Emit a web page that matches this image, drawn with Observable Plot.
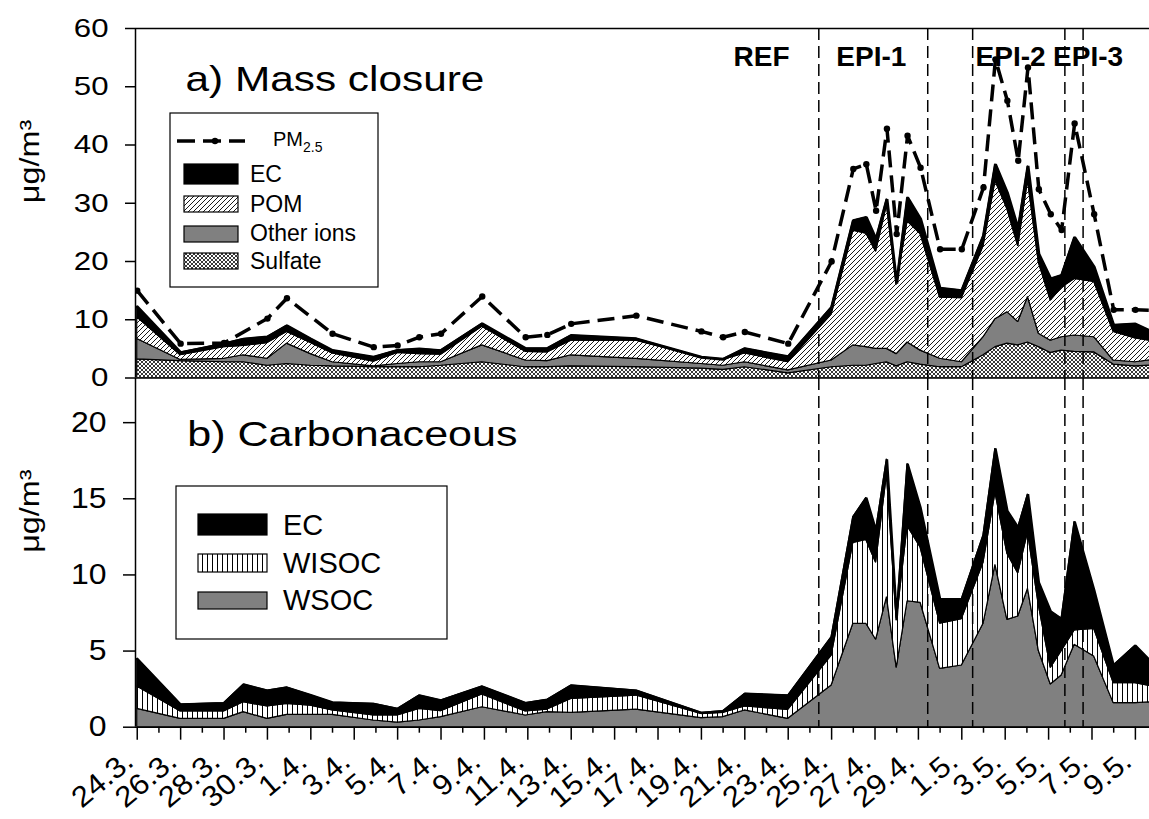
<!DOCTYPE html>
<html>
<head>
<meta charset="utf-8">
<script src="https://cdn.jsdelivr.net/npm/d3@7"></script>
<script src="https://cdn.jsdelivr.net/npm/@observablehq/plot@0.6"></script>
<style>
  body { margin: 0; background: #fff; }
  #chart { position: relative; width: 1149px; height: 819px; overflow: hidden; font-family: "Liberation Sans", Arial, sans-serif; }
  #chart svg { position: absolute; left: 0; top: 0; overflow: visible; background: transparent; }
</style>
</head>
<body>
<svg width="0" height="0" style="position:absolute">
  <defs>
    <pattern id="diag" width="5" height="5" patternUnits="userSpaceOnUse">
      <rect width="5" height="5" fill="white"/>
      <path d="M-1,1 L1,-1 M0,5 L5,0 M4,6 L6,4" stroke="black" stroke-width="0.9"/>
    </pattern>
    <pattern id="xhatch" width="4" height="4" patternUnits="userSpaceOnUse">
      <rect width="4" height="4" fill="white"/>
      <path d="M0,0 L4,4 M4,0 L0,4" stroke="#222" stroke-width="0.9"/>
    </pattern>
    <pattern id="vlines" width="5" height="8" patternUnits="userSpaceOnUse">
      <rect width="5" height="8" fill="white"/>
      <line x1="2.5" y1="0" x2="2.5" y2="8" stroke="black" stroke-width="1"/>
    </pattern>
  </defs>
</svg>
<div id="chart"></div>
<script>
// Sampling times, days after 24 March
const day = [0, 2, 4, 4.9, 6, 6.9, 8, 9, 10.9, 12, 13, 14, 15.9, 17.9, 18.9, 20, 23, 26, 27, 28,
  30, 32, 33, 33.6, 34.05, 34.55, 35, 35.5, 36.1, 37, 38, 39, 39.55, 40.1, 40.6, 41.05, 41.55, 42.1, 42.6, 43.2,
  44.1, 45, 46, 47];

// Axis ticks and labels
const tickDays = [0, 2, 4, 6, 8, 10, 12, 14, 16, 18, 20, 22, 24, 26, 28, 30, 32, 34, 36, 38, 40, 42, 44, 46];
const tickLabels = ["24.3.", "26.3.", "28.3.", "30.3.", "1.4.", "3.4.", "5.4.", "7.4.", "9.4.", "11.4.", "13.4.", "15.4.",
  "17.4.", "19.4.", "21.4.", "23.4.", "25.4.", "27.4.", "29.4.", "1.5.", "3.5.", "5.5.", "7.5.", "9.5."];
const minorDays = [1, 3, 5, 7, 9, 11, 13, 15, 17, 19, 21, 23, 25, 27, 29, 31, 33, 35, 37, 39, 41, 43, 45];
const massTicks = [0, 10, 20, 30, 40, 50, 60];
const carbTicks = [0, 5, 10, 15, 20];

// Periods
const periodNames = ["REF", "EPI-1", "EPI-2", "EPI-3"];
const periodCenters = [28.77, 33.83, 40.25, 43.82];
const episodeBounds = [31.41, 36.43, 38.5, 42.75, 43.59];

// a) Mass closure, µg/m3
const sulfate = [3.2, 2.9, 2.7, 2.7, 2.1, 2.4, 2.1, 2.0, 1.85, 1.85, 1.85, 2.1, 2.7, 1.85, 1.85, 2.0, 1.85, 1.6, 1.4, 1.85,
  0.8, 1.85, 2.1, 2.1, 2.4, 2.7, 2.0, 2.7, 2.3, 1.85, 1.85, 3.9, 5.3, 5.9, 5.6, 6.1, 5.3, 4.3, 4.7, 4.5,
  4.4, 2.3, 2.0, 2.2];
const otherIons = [3.5, 0.2, 0.6, 1.2, 1.2, 3.5, 2.0, 0.7, 0.15, 0.55, 0.85, 0.6, 2.9, 1.15, 1.05, 1.9, 1.45, 0.8, 0.7, 0.85,
  0.5, 1.15, 3.5, 3.2, 2.6, 2.3, 2.1, 3.4, 2.4, 1.45, 0.85, 3.1, 4.8, 5.4, 4.0, 7.8, 2.3, 2.1, 2.3, 2.8,
  2.6, 0.7, 0.7, 1.0];
const pom = [3.7, 0.8, 2.0, 1.6, 2.7, 2.0, 1.9, 1.5, 0.8, 1.9, 1.4, 1.3, 3.2, 1.5, 1.5, 2.5, 3.1, 1.1, 1.0, 1.5,
  1.4, 7.9, 19.7, 19.5, 16.7, 24.7, 11.9, 20.8, 20.0, 10.5, 11.0, 15.6, 23.7, 17.7, 13.0, 20.0, 12.2, 6.9, 8.5, 9.7,
  9.5, 4.9, 4.1, 3.0];
const pm25 = [15.0, 5.9, 6.0, null, 10.2, 13.7, null, 7.6, 5.3, 5.6, 7.0, 7.6, 14.0, 7.0, 7.4, 9.3, 10.7, 8.0, 7.0, 7.9,
  5.9, 20.0, 35.9, 36.7, 28.7, 42.8, 24.7, 41.6, 36.1, 22.1, 22.1, 32.7, 54.7, 47.6, 37.3, 53.3, 32.4, 28.1, 25.4, 43.7,
  28.1, 11.7, 11.7, 11.6];

// b) Carbonaceous, µg/m3 (EC is shared by both panels)
const wsoc = [1.2, 0.55, 0.55, 0.99, 0.55, 0.81, 0.81, 0.81, 0.44, 0.3, 0.44, 0.66, 1.31, 0.77, 0.99, 0.94, 1.16, 0.59, 0.66, 1.1,
  0.55, 2.74, 6.79, 6.79, 5.74, 8.54, 3.9, 8.27, 8.17, 3.83, 4.05, 6.79, 10.66, 7.05, 7.27, 9.09, 5.0, 2.8, 3.4, 5.41,
  4.64, 1.58, 1.58, 1.65];
const wisoc = [1.47, 0.48, 0.48, 0.65, 0.81, 0.72, 0.61, 0.29, 0.33, 0.47, 0.76, 0.39, 0.84, 0.26, 0.17, 0.92, 0.92, 0.29, 0.28, 0.26,
  0.59, 1.96, 5.31, 5.51, 5.06, 8.06, 3.1, 4.93, 3.63, 2.97, 3.05, 4.01, 4.74, 4.35, 2.83, 3.71, 3.0, 1.1, 1.6, 0.94,
  1.82, 1.32, 1.32, 0.95];
const ec = [1.82, 0.46, 0.55, 1.16, 1.04, 1.07, 0.68, 0.52, 0.76, 0.43, 0.88, 0.70, 0.52, 0.55, 0.64, 0.88, 0.32, 0.06, 0.11, 0.83,
  0.94, 1.21, 1.7, 2.76, 2.1, 1.0, 0.2, 4.1, 2.6, 1.6, 1.3, 1.8, 2.9, 2.8, 3.0, 2.5, 1.5, 3.7, 2.1, 7.15,
  2.54, 1.15, 2.46, 1.3];

const massComponents = ["Sulfate", "Other ions", "POM", "EC"];
const massValues = {"Sulfate": sulfate, "Other ions": otherIons, "POM": pom, "EC": ec};
const carbComponents = ["WSOC", "WISOC", "EC"];
const carbValues = {"WSOC": wsoc, "WISOC": wisoc, "EC": ec};
const fills = {"Sulfate": "url(#xhatch)", "Other ions": "#808080", "POM": "url(#diag)", "EC": "#000000",
  "WSOC": "#808080", "WISOC": "url(#vlines)"};

const massLong = massComponents.flatMap(c => day.map((d, i) => ({day: d, comp: c, value: massValues[c][i]})));
const carbLong = carbComponents.flatMap(c => day.map((d, i) => ({day: d, comp: c, value: carbValues[c][i]})));
const pmRows = day.map((d, i) => ({day: d, pm: pm25[i]})).filter(r => r.pm != null);
const massTotal = day.map((d, i) => ({day: d, v: sulfate[i] + otherIons[i] + pom[i] + ec[i]}));
const carbTotal = day.map((d, i) => ({day: d, v: wsoc[i] + wisoc[i] + ec[i]}));

const W = 1149;
const xDomain = [-0.08, 46.65];
const font = "'Liberation Sans', Arial, Helvetica, sans-serif";

const topPlot = Plot.plot({
  width: W, height: 400,
  marginLeft: 135, marginRight: 0, marginTop: 28, marginBottom: 22.5,
  x: {domain: xDomain, axis: null},
  y: {domain: [0, 60]},
  color: {type: "identity"},
  style: {fontFamily: font, background: "transparent", overflow: "visible", color: "black"},
  marks: [
    Plot.areaY(massLong, Plot.stackY({x: "day", y: "value", z: "comp", order: massComponents,
      fill: d => fills[d.comp], stroke: "black", strokeWidth: 1.2, strokeLinejoin: "miter", clip: true})),
    Plot.lineY(massTotal, {x: "day", y: "v", stroke: "black", strokeWidth: 3, strokeLinejoin: "miter", clip: true}),
    Plot.ruleX(episodeBounds, {stroke: "black", strokeWidth: 1.5, strokeDasharray: "12,6"}),
    Plot.line(pmRows, {x: "day", y: "pm", stroke: "black", strokeWidth: 3.5, strokeDasharray: "17,8",
      strokeLinecap: "butt", clip: true}),
    Plot.dot(pmRows, {x: "day", y: "pm", r: 3.2, fill: "black", clip: true}),
    Plot.ruleY([0, 60], {stroke: "black", strokeWidth: 1.5}),
    Plot.ruleX([xDomain[0]], {stroke: "black", strokeWidth: 1.5}),
    Plot.axisY({ticks: massTicks, tickSize: 10, tickPadding: 17, fontSize: 26, strokeWidth: 1.5, label: null}),
    Plot.text(periodNames, {x: (d, i) => periodCenters[i], text: d => d, frameAnchor: "top", dy: 37,
      lineAnchor: "bottom", fontWeight: "bold", fontSize: 28}),
    Plot.text(["a) Mass closure"], {text: d => d, frameAnchor: "top-left", dx: 50, dy: 62,
      textAnchor: "start", lineAnchor: "bottom", fontSize: 35}),
    Plot.text(["μg/m³"], {text: d => d, frameAnchor: "left", dx: -97, rotate: -90, lineAnchor: "bottom", fontSize: 27})
  ]
});

const bottomPlot = Plot.plot({
  width: W, height: 819,
  marginLeft: 135, marginRight: 0, marginTop: 378, marginBottom: 92.3,
  x: {domain: xDomain},
  y: {domain: [0, 22.9]},
  color: {type: "identity"},
  style: {fontFamily: font, background: "transparent", overflow: "visible", color: "black"},
  marks: [
    Plot.areaY(carbLong, Plot.stackY({x: "day", y: "value", z: "comp", order: carbComponents,
      fill: d => fills[d.comp], stroke: "black", strokeWidth: 1.2, strokeLinejoin: "miter", clip: true})),
    Plot.lineY(carbTotal, {x: "day", y: "v", stroke: "black", strokeWidth: 2.5, strokeLinejoin: "miter", clip: true}),
    Plot.ruleX(episodeBounds, {stroke: "black", strokeWidth: 1.5, strokeDasharray: "12,6"}),
    Plot.ruleY([0], {stroke: "black", strokeWidth: 1.5}),
    Plot.ruleX([xDomain[0]], {stroke: "black", strokeWidth: 1.5}),
    Plot.axisY({ticks: carbTicks, tickSize: 12, tickPadding: 17, fontSize: 29, strokeWidth: 1.5, label: null}),
    Plot.axisX({ticks: tickDays, tickSize: 13, tickFormat: () => "", strokeWidth: 1.5, label: null}),
    Plot.axisX({ticks: minorDays, tickSize: 6, tickFormat: () => "", strokeWidth: 1.5, label: null}),
    Plot.text(tickDays, {x: d => d, text: (d, i) => tickLabels[i], frameAnchor: "bottom", dy: 37, dx: -2,
      rotate: -40, textAnchor: "end", lineAnchor: "bottom", fontSize: 29}),
    Plot.text(["b) Carbonaceous"], {text: d => d, frameAnchor: "top-left", dx: 51.7, dy: 67,
      textAnchor: "start", lineAnchor: "bottom", fontSize: 35}),
    Plot.text(["μg/m³"], {text: d => d, frameAnchor: "left", dx: -97, rotate: -90, lineAnchor: "bottom", fontSize: 27})
  ]
});

const chart = document.getElementById("chart");
chart.appendChild(bottomPlot);
chart.appendChild(topPlot);

// Horizontally widen selected labels (glyphs in this figure run wide)
function widen(svg, test, k) {
  svg.querySelectorAll("text").forEach(t => {
    if (!test(t)) return;
    const L = t.getComputedTextLength();
    if (L > 0) {
      t.setAttribute("textLength", (L * k).toFixed(1));
      t.setAttribute("lengthAdjust", "spacingAndGlyphs");
    }
  });
}
const isTickLabel = t => t.closest('g[aria-label="y-axis tick label"]') != null;
widen(topPlot, isTickLabel, 1.2);
widen(bottomPlot, isTickLabel, 1.1);
widen(topPlot, t => t.textContent === "a) Mass closure", 1.21);
widen(bottomPlot, t => t.textContent === "b) Carbonaceous", 1.23);
widen(bottomPlot, t => tickLabels.includes(t.textContent), 1.08);
widen(topPlot, t => t.textContent === "μg/m³", 1.2);
widen(bottomPlot, t => t.textContent === "μg/m³", 1.2);

// Legend, panel a
const massLegend = ["EC", "POM", "Other ions", "Sulfate"];
const lgA = d3.select(topPlot).append("g").attr("font-family", font).attr("text-anchor", "start");
lgA.append("rect").attr("x", 170).attr("y", 113).attr("width", 208).attr("height", 174)
  .attr("fill", "white").attr("stroke", "black").attr("stroke-width", 1.2);
lgA.append("line").attr("x1", 177).attr("x2", 245).attr("y1", 141).attr("y2", 141)
  .attr("stroke", "black").attr("stroke-width", 3.5).attr("stroke-dasharray", "18,8");
lgA.append("circle").attr("cx", 215).attr("cy", 141).attr("r", 3.2).attr("fill", "black");
const pmText = lgA.append("text").attr("x", 273).attr("y", 146).attr("font-size", 20);
pmText.append("tspan").text("PM");
pmText.append("tspan").attr("dy", 6).attr("font-size", 14).text("2.5");
const swA = [{y: 164, h: 20, tb: 182}, {y: 196, h: 16, tb: 212}, {y: 226, h: 16, tb: 241}, {y: 253, h: 16, tb: 269}];
massLegend.forEach((name, i) => {
  lgA.append("rect").attr("x", 184).attr("y", swA[i].y).attr("width", 54).attr("height", swA[i].h)
    .attr("fill", fills[name]).attr("stroke", "black").attr("stroke-width", 1.2);
  lgA.append("text").attr("x", 250).attr("y", swA[i].tb).attr("font-size", 23).text(name);
});

// Legend, panel b
const carbLegend = ["EC", "WISOC", "WSOC"];
const lgB = d3.select(bottomPlot).append("g").attr("font-family", font).attr("text-anchor", "start");
lgB.append("rect").attr("x", 176).attr("y", 486).attr("width", 271).attr("height", 153)
  .attr("fill", "white").attr("stroke", "black").attr("stroke-width", 1.2);
const swB = [{y: 514, h: 21, tb: 535}, {y: 554, h: 18, tb: 572.5}, {y: 592, h: 17, tb: 610}];
carbLegend.forEach((name, i) => {
  lgB.append("rect").attr("x", 198).attr("y", swB[i].y).attr("width", 69).attr("height", swB[i].h)
    .attr("fill", fills[name]).attr("stroke", "black").attr("stroke-width", 1.2);
  lgB.append("text").attr("x", 283).attr("y", swB[i].tb).attr("font-size", 29).text(name);
});
</script>
</body>
</html>
